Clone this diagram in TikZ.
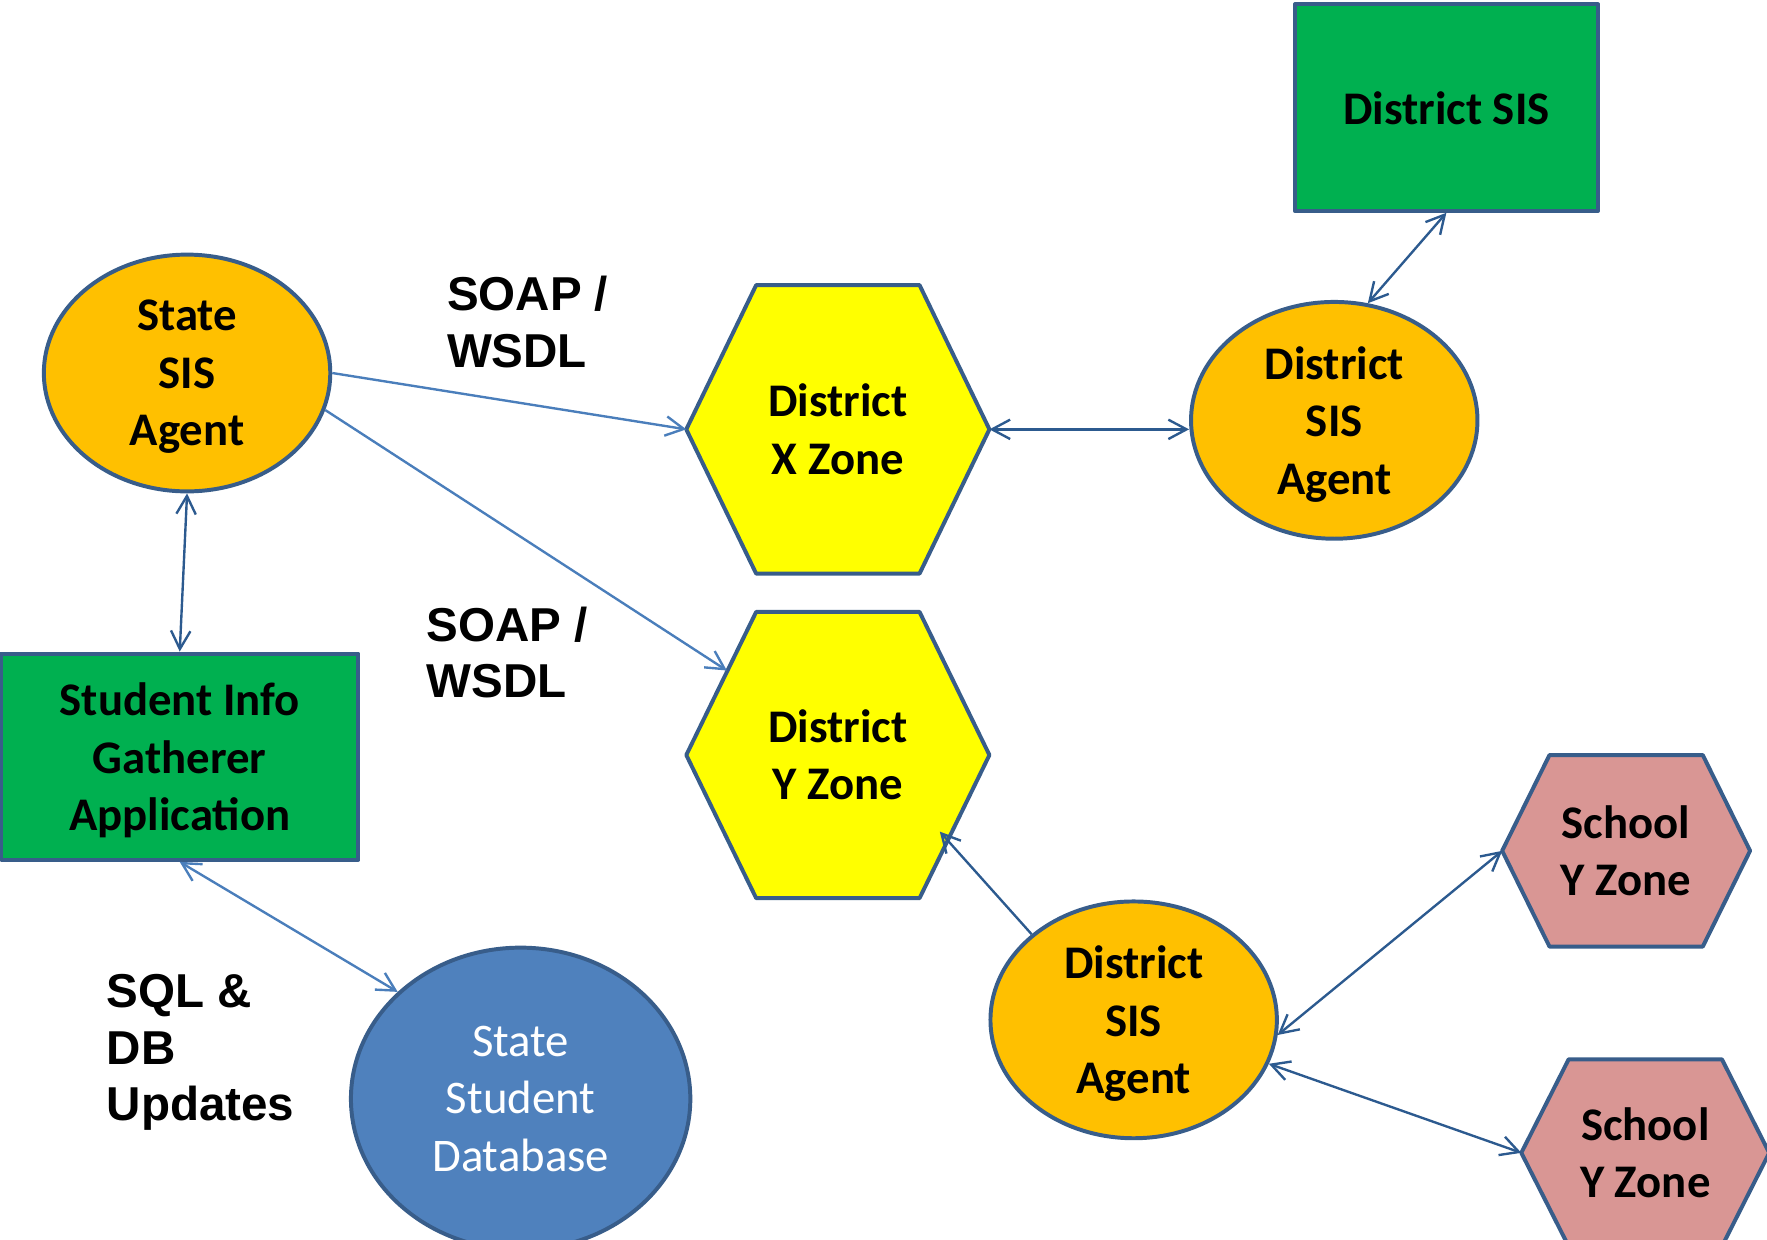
\documentclass[tikz,border=0pt]{standalone}
\usepackage{fontspec}
\setmainfont{Carlito}
\newfontfamily\labelfont{Liberation Sans}
\usetikzlibrary{shapes,arrows.meta,positioning}

\definecolor{agentorange}{HTML}{FFC000}
\definecolor{zoneyellow}{HTML}{FFFF00}
\definecolor{schoolpink}{HTML}{D99694}
\definecolor{appgreen}{HTML}{00B050}
\definecolor{dbblue}{HTML}{4F81BD}
\definecolor{outline}{HTML}{385D8A}
\definecolor{linkdark}{HTML}{2C5A8F}
\definecolor{linklight}{HTML}{4A7EBB}

\begin{document}
\begin{tikzpicture}[x=0.01cm, y=-0.01cm,
        >={Straight Barb[length=4.6pt,width=4.9pt]},
        every node/.style={font=\bfseries\fontsize{11.8}{14.5}\selectfont, align=center},
        border/.style={draw=outline, line width=1pt, line join=round},
        agent/.style={border, ellipse, fill=agentorange, inner sep=0pt, text depth=0pt,
            minimum width=2.54cm, minimum height=2.10cm},
        app/.style={border, rectangle, fill=appgreen, inner sep=0pt, text depth=0pt},
        store/.style={border, ellipse, fill=dbblue, text=white, inner sep=0pt,
            font=\mdseries\fontsize{11.8}{14.5}\selectfont},
        soap/.style={font=\labelfont\bfseries\fontsize{12}{14.3}\selectfont,
            align=left, anchor=west, inner sep=0pt},
        link/.style={draw=linkdark, line width=0.6pt}]
        \useasboundingbox (0,0) rectangle (1568,1100);
        % Zones (hexagons)
        \foreach \n/\cx/\cy/\hw/\tw/\hh/\c/\t in {
                xz/743.5/381/134.5/72.5/128/zoneyellow/{District\\X Zone},
                yz/743.5/670/134.5/72.5/127/zoneyellow/{District\\Y Zone},
                sa/1443/755/110/68/85/schoolpink/{School\\Y Zone},
                sb/1460/1023/110/68/83/schoolpink/{School\\Y Zone}} {
                \draw[border, fill=\c] (\cx-\hw,\cy) coordinate (\n-w)
                    -- (\cx-\tw,\cy-\hh) -- (\cx+\tw,\cy-\hh)
                    -- (\cx+\hw,\cy) coordinate (\n-e)
                    -- (\cx+\tw,\cy+\hh) -- (\cx-\tw,\cy+\hh) -- cycle;
                \node (\n) at (\cx,\cy) {\t};
            }
        \coordinate (yz-in) at (645,595);
        \coordinate (yz-in2) at (834,738);
        % Agents
        \node[agent] (state) at (166,331) {State\\SIS\\Agent};
        \node[agent] (dtop) at (1184,373) {District\\SIS\\Agent};
        \node[agent] (dbot) at (1006,905) {District\\SIS\\Agent};
        % Applications and database
        \node[app, minimum width=2.69cm, minimum height=1.83cm] (dsis) at (1283.5,95.5) {District SIS};
        \node[app, minimum width=3.17cm, minimum height=1.83cm] (sia) at (159.5,671.5) {Student Info\\Gatherer\\Application};
        \node[store, minimum width=3.01cm, minimum height=2.68cm] (db) at (462,975) {State\\Student\\Database};
        % Labels
        \node[soap] (soap1) at (396,286) {SOAP /\\WSDL};
        \node[soap] (soap2) at (378,579) {SOAP /\\WSDL};
        \node[soap] (sql) at (94,934) {SQL \&\\DB\\Updates};
        % Connectors
        \draw[link, ->, draw=linklight] (state.east) -- (xz-w);
        \draw[link, ->, draw=linklight] (state.-15) -- (yz-in);
        \draw[link, <->] (state.south) -- (sia.north);
        \draw[link, <->, draw=linklight] (sia.south) -- (db.139);
        \draw[link, <->] (xz-e) -- (xz-e -| dtop.west);
        \draw[link, <->] (dsis.south) -- (dtop.74);
        \draw[link, ->] (dbot.140) -- (yz-in2);
        \draw[link, <->] (dbot.-6) -- (sa-w);
        \draw[link, <->] (dbot.-18) -- (sb-w);
    \end{tikzpicture}
\end{document}
